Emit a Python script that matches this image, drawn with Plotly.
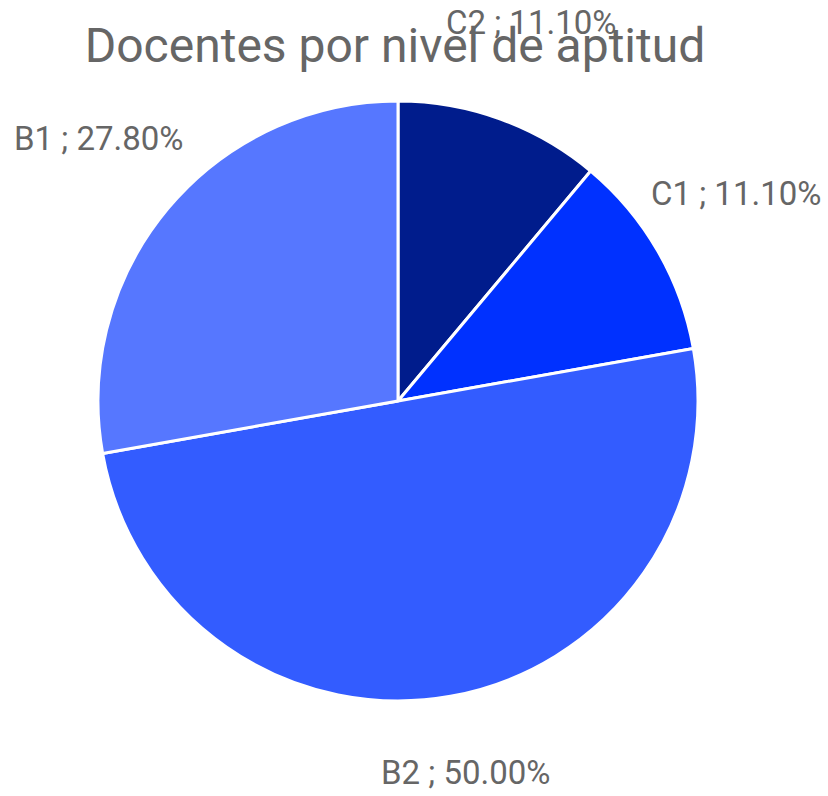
import math
import plotly.graph_objects as go

labels = ["C2", "C1", "B2", "B1"]
values = [11.1, 11.1, 50.0, 27.8]
colors = ["#001C8C", "#0031FF", "#335CFF", "#5677FF"]
title_text = "Docentes por nivel de aptitud"

W, H = 828, 796
cx_px, cy_px, R = 398, 401, 300

fig = go.Figure(go.Pie(
    labels=labels, values=values, sort=False, direction="clockwise", rotation=0,
    marker=dict(colors=colors, line=dict(color="white", width=3)),
    textinfo="none", hoverinfo="label+percent", showlegend=False,
    domain=dict(x=[(cx_px - R) / W, (cx_px + R) / W],
                y=[1 - (cy_px + R) / H, 1 - (cy_px - R) / H]),
))

total = sum(values)
acc = 0.0
k = 1.30
for lab, v in zip(labels, values):
    mid = (acc + v / 2) / total * 2 * math.pi
    acc += v
    x = (cx_px + k * R * math.sin(mid)) / W
    y = 1 - (cy_px - k * R * math.cos(mid)) / H
    fig.add_annotation(x=x, y=y, xref="paper", yref="paper", showarrow=False,
                       text=f"{lab} ; {v / total * 100:.2f}%", yshift=12,
                       font=dict(family="Roboto", size=33, color="#666666"),
                       xanchor="center", yanchor="middle")

fig.update_layout(
    width=W, height=H, margin=dict(l=0, r=0, t=0, b=0),
    paper_bgcolor="white", plot_bgcolor="white",
    title=dict(text=title_text, x=395 / W, xanchor="center", y=1 - 45 / H,
               yanchor="middle", font=dict(family="Roboto", size=48, color="#666666")),
)

fig.write_html("out.html")
